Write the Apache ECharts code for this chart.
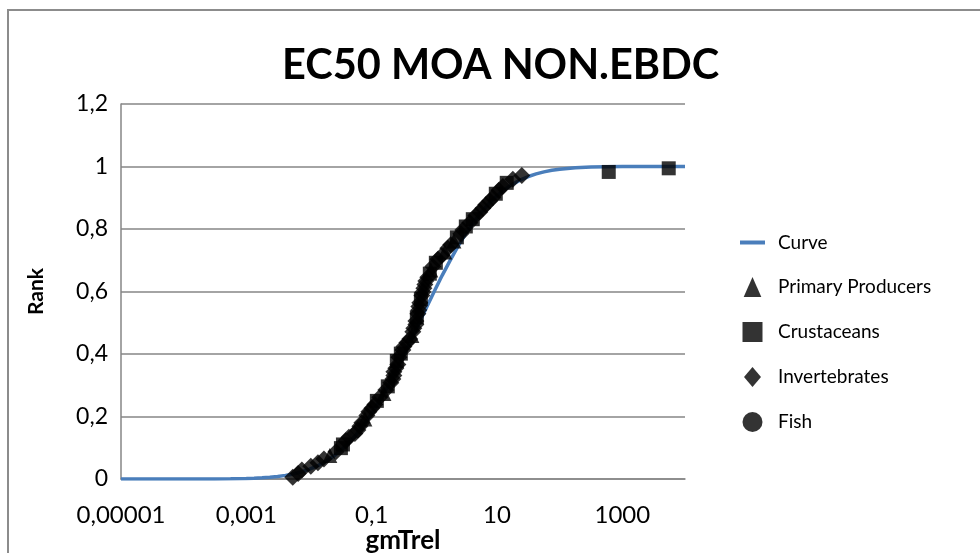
<!DOCTYPE html>
<html>
<head>
<meta charset="utf-8">
<script src="https://cdn.jsdelivr.net/npm/echarts@6/dist/echarts.min.js"></script>
<style>
html,body{margin:0;padding:0;background:#fff;}
#chart{width:980px;height:553px;}
</style>
</head>
<body>
<div id="chart"></div>
<script>
const titleText = 'EC50 MOA NON.EBDC';
const xName = 'gmTrel';
const yName = 'Rank';
const xTickLabels = {'-5':'0,00001','-3':'0,001','-1':'0,1','1':'10','3':'1000'};

const curveX = [0.00001,0.0000178,0.0000316,0.0000562,0.0001,0.000178,0.000316,0.000562,0.001,0.00133,0.00178,0.00237,0.00316,0.00422,0.00562,0.0075,0.01,0.0133,0.0178,0.0237,0.0316,0.0422,0.0562,0.075,0.1,0.133,0.178,0.237,0.316,0.422,0.562,0.75,1,1.33,1.78,2.37,3.16,4.22,5.62,7.5,10,13.3,17.8,23.7,31.6,42.2,56.2,75,100,178,316,562,1000,1780,3160,5620,10000];
const curveY = [0,0,0.000003,0.00001,0.00003,0.0001,0.00026,0.0007,0.00166,0.00253,0.0038,0.00559,0.0082,0.01157,0.0163,0.0225,0.0306,0.041,0.0541,0.0703,0.090,0.1137,0.1414,0.1733,0.2093,0.2496,0.2936,0.3409,0.391,0.4428,0.4958,0.5486,0.6007,0.651,0.699,0.7434,0.7844,0.8212,0.8539,0.8822,0.9064,0.9267,0.9435,0.9571,0.9679,0.9764,0.9829,0.9878,0.9914,0.9960,0.9982,0.99927,0.99972,0.9999,0.99997,1,1];

const primaryProducers = [[0.0215,0.0756],[0.078,0.1919],[0.157,0.2733],[0.438,0.4593],[0.879,0.6686],[1.47,0.7267],[2.05,0.7616]];
const crustaceans = [[0.0323,0.0988],[0.0348,0.1105],[0.121,0.25],[0.181,0.2965],[0.252,0.3779],[0.292,0.4012],[0.526,0.5174],[0.61,0.5756],[0.847,0.657],[1.057,0.6919],[2.29,0.7733],[3.18,0.8081],[4.11,0.8314],[9.57,0.9128],[14.3,0.9477],[607,0.9826],[5500,0.9942]];
const invertebrates = [[0.0055,0.0058],[0.0067,0.0174],[0.0077,0.0291],[0.0107,0.0407],[0.0139,0.0523],[0.0173,0.064],[0.0269,0.0872],[0.0388,0.1221],[0.0433,0.1337],[0.054,0.1453],[0.0603,0.157],[0.0649,0.1686],[0.0698,0.1802],[0.0838,0.2035],[0.0902,0.2151],[0.1007,0.2267],[0.1125,0.2384],[0.135,0.2616],[0.168,0.2849],[0.202,0.3081],[0.218,0.3198],[0.226,0.3314],[0.226,0.343],[0.243,0.3547],[0.262,0.3663],[0.272,0.3895],[0.315,0.4128],[0.327,0.4244],[0.364,0.436],[0.406,0.4477],[0.454,0.4709],[0.471,0.4826],[0.507,0.4942],[0.507,0.5058],[0.546,0.5291],[0.566,0.5407],[0.566,0.5523],[0.587,0.564],[0.632,0.5872],[0.656,0.5988],[0.681,0.6105],[0.706,0.6221],[0.731,0.6337],[0.787,0.6453],[0.946,0.6802],[1.138,0.7035],[1.318,0.7151],[1.64,0.7384],[1.83,0.75],[2.65,0.7849],[2.85,0.7965],[3.68,0.8198],[4.59,0.843],[5.32,0.8547],[5.94,0.8663],[6.62,0.8779],[7.67,0.8895],[8.57,0.9012],[10.7,0.9244],[12.4,0.936],[17.9,0.9593],[24.9,0.9709]];
const fish = [];

const FONT = 'Lato';
const chart = echarts.init(document.getElementById('chart'), null, {renderer:'canvas'});
chart.setOption({
  animation:false,
  backgroundColor:'#ffffff',
  title:{
    text:titleText, left:277, top:40,
    textStyle:{fontFamily:FONT, fontWeight:'bold', fontSize:41.5, color:'#000'}
  },
  graphic:[{type:'rect', shape:{x:8,y:10,width:1100,height:700}, style:{fill:'none', stroke:'#8c8c8c', lineWidth:2}, silent:true}],
  grid:{left:121, top:104, right:295, bottom:74, containLabel:false, outerBoundsMode:'none'},
  legend:{
    orient:'vertical', left:735, top:228, itemWidth:25, itemHeight:20, itemGap:25,
    symbolKeepAspect:true,
    textStyle:{fontFamily:FONT, fontSize:19, color:'#000', padding:[0,0,0,8], lineHeight:16},
    data:[
      {name:'Curve', icon:'path://M0,0H25V4H0Z'},
      {name:'Primary Producers', icon:'path://M7.5,0L15,17L0,17Z'},
      {name:'Crustaceans', icon:'path://M0,0H15V15H0Z'},
      {name:'Invertebrates', icon:'path://M8.5,0L17,10L8.5,20L0,10Z'},
      {name:'Fish', icon:'path://M8,0A8,8,0,1,1,8,16A8,8,0,1,1,8,0Z'}
    ]
  },
  xAxis:{
    type:'log', logBase:10, min:0.00001, max:10000, interval:2,
    name:xName, nameLocation:'middle', nameGap:49, nameMoveOverlap:false,
    nameTextStyle:{fontFamily:FONT, fontWeight:'bold', fontSize:26, color:'#000'},
    axisLine:{show:true, lineStyle:{color:'#868686', width:1.5}},
    axisTick:{show:false}, splitLine:{show:false}, minorTick:{show:false},
    axisLabel:{fontFamily:FONT, fontSize:24, color:'#000', margin:24, showMaxLabel:false,
      formatter:function(v){const e=Math.round(Math.log10(v)); return xTickLabels[String(e)] || '';}}
  },
  yAxis:{
    type:'value', min:0, max:1.2, interval:0.2,
    name:yName, nameLocation:'middle', nameGap:74, nameMoveOverlap:false,
    nameTextStyle:{fontFamily:FONT, fontWeight:'bold', fontSize:21, color:'#000'},
    axisLine:{show:true, lineStyle:{color:'#868686', width:1.5}},
    axisTick:{show:false},
    splitLine:{show:true, lineStyle:{color:'#868686', width:1.5}},
    axisLabel:{fontFamily:FONT, fontSize:23, color:'#000', margin:13,
      formatter:function(v){return String(Math.round(v*10)/10).replace('.',',');}}
  },
  series:[
    {name:'Curve', type:'line', data:curveX.map((x,i)=>[x,curveY[i]]), showSymbol:false, symbol:'none',
      smooth:false, lineStyle:{color:'#4A7EBB', width:3.5}, itemStyle:{color:'#4A7EBB'}, z:1},
    {name:'Primary Producers', type:'scatter', symbol:'triangle', symbolSize:15, data:primaryProducers, itemStyle:{color:'#000'}, z:3},
    {name:'Crustaceans', type:'scatter', symbol:'rect', symbolSize:14, data:crustaceans, itemStyle:{color:'#000'}, z:3},
    {name:'Invertebrates', type:'scatter', symbol:'diamond', symbolSize:17, data:invertebrates, itemStyle:{color:'#000'}, z:3},
    {name:'Fish', type:'scatter', symbol:'circle', symbolSize:14, data:fish, itemStyle:{color:'#000'}, z:3}
  ]
});
</script>
</body>
</html>
